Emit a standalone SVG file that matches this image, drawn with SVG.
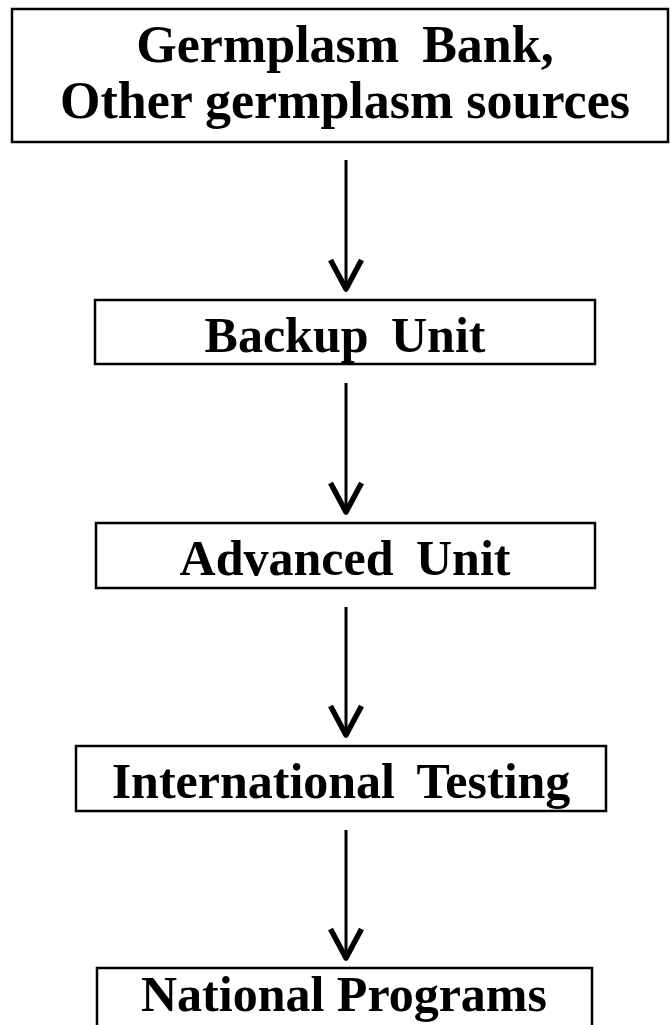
<svg xmlns="http://www.w3.org/2000/svg" width="670" height="1025" viewBox="0 0 670 1025">
<style>
.box{fill:#fff;stroke:#000;stroke-width:2.5}
.lbl{font-family:"Liberation Serif","Times New Roman",serif;font-weight:bold;font-size:50px;fill:#000;text-anchor:middle;word-spacing:10px}
.big{font-size:52px}
.conn{stroke:#000;stroke-width:3;fill:none}
</style>
<defs>
<marker id="vhead" viewBox="0 0 32 34" refX="30" refY="17" markerWidth="32" markerHeight="34" markerUnits="userSpaceOnUse" orient="auto" overflow="visible">
<path d="M1,1.5 L30,17 L1,32.5" fill="none" stroke="#000" stroke-width="5.5" stroke-linejoin="round" stroke-linecap="butt"/>
</marker>
</defs>
<rect width="670" height="1025" fill="#fff"/>
<g id="connectors">
<line class="conn" x1="346" y1="160" x2="346" y2="289" marker-end="url(#vhead)"/>
<line class="conn" x1="346" y1="383" x2="346" y2="512" marker-end="url(#vhead)"/>
<line class="conn" x1="346" y1="607" x2="346" y2="735" marker-end="url(#vhead)"/>
<line class="conn" x1="346" y1="830" x2="346" y2="958" marker-end="url(#vhead)"/>
</g>
<g id="node-germplasm">
<rect class="box" x="12" y="9" width="656" height="133"/>
<text class="lbl big" x="345" y="62">Germplasm Bank,</text>
<text class="lbl big" x="345" y="118" style="word-spacing:0">Other germplasm sources</text>
</g>
<g id="node-backup">
<rect class="box" x="95" y="300" width="500" height="64"/>
<text class="lbl" x="345" y="352">Backup Unit</text>
</g>
<g id="node-advanced">
<rect class="box" x="96" y="523" width="499" height="65"/>
<text class="lbl" x="345" y="575">Advanced Unit</text>
</g>
<g id="node-international">
<rect class="box" x="76" y="746" width="530" height="65"/>
<text class="lbl" x="341" y="798">International Testing</text>
</g>
<g id="node-national">
<rect class="box" x="97" y="968" width="495" height="80"/>
<text class="lbl" x="344" y="1011" style="word-spacing:0">National Programs</text>
</g>
</svg>
